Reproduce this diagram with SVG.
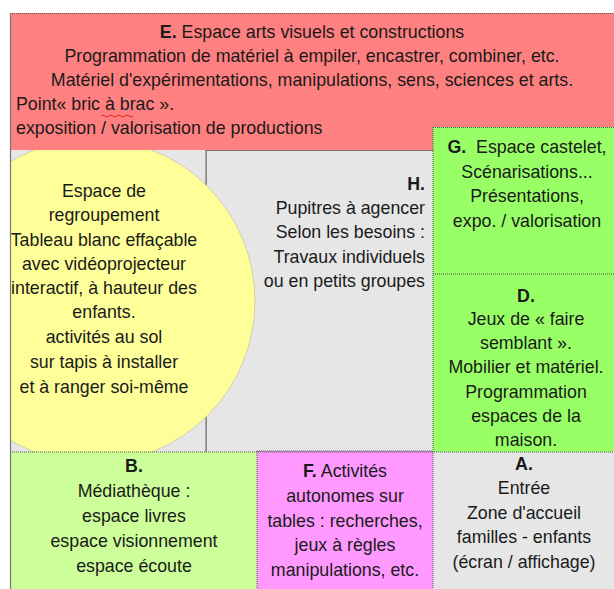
<svg xmlns="http://www.w3.org/2000/svg" width="614" height="589" viewBox="0 0 614 589">
<style>
text{font-family:"Liberation Sans",Arial,sans-serif;font-size:17.8px;fill:#1a1a1a}
.c{text-anchor:middle}
.r{text-anchor:end}
.b{font-weight:bold}
.dot{stroke:#555;stroke-width:1;stroke-dasharray:1 1;fill:none}
.ln{stroke:#777;stroke-width:1.2;fill:none}
</style>
<defs>
<clipPath id="grpClip"><rect x="10" y="150" width="423" height="302"/></clipPath>
</defs>
<rect x="0" y="0" width="614" height="589" fill="#ffffff"/>

<g id="node-E">
<rect x="10" y="13" width="610" height="137" fill="#FF8080"/>
<line class="dot" x1="10" y1="13.5" x2="614" y2="13.5"/>
<text class="c" x="312" y="38"><tspan class="b">E.</tspan> Espace arts visuels et constructions</text>
<text class="c" x="312" y="62">Programmation de matériel à empiler, encastrer, combiner, etc.</text>
<text class="c" x="312" y="86">Matériel d'expérimentations, manipulations, sens, sciences et arts.</text>
<text x="16" y="110">Point« bric à brac ».</text>
<path d="M101 116 q2 -2 4 0 t4 0 t4 0 t4 0 t4 0 t4 0 t4 0 t4 0" stroke="#e02020" stroke-width="1" fill="none"/>
<text x="16" y="134">exposition / valorisation de productions</text>
</g>

<g id="node-H">
<rect x="206" y="150" width="227" height="302" fill="#E6E6E6"/>
<line class="ln" x1="206" y1="150" x2="206" y2="452"/>
<line class="ln" x1="206" y1="150.5" x2="433" y2="150.5"/>
<text class="r b" x="425" y="190">H.</text>
<text class="r" x="425" y="214">Pupitres à agencer</text>
<text class="r" x="425" y="238">Selon les besoins :</text>
<text class="r" x="425" y="263">Travaux individuels</text>
<text class="r" x="425" y="287">ou en petits groupes</text>
</g>

<g id="node-regroupement">
<rect x="10" y="150" width="196" height="302" fill="#E6E6E6"/>
<line class="ln" x1="206" y1="150" x2="206" y2="452"/>
<circle cx="93" cy="301" r="162" fill="#FFFF99" stroke="#c8c8a0" stroke-width="0.8" clip-path="url(#grpClip)"/>
<text class="c" x="104" y="197">Espace de</text>
<text class="c" x="104" y="221">regroupement</text>
<text class="c" x="104" y="246">Tableau blanc effaçable</text>
<text class="c" x="104" y="270">avec vidéoprojecteur</text>
<text class="c" x="104" y="294">interactif, à hauteur des</text>
<text class="c" x="104" y="318">enfants.</text>
<text class="c" x="104" y="343">activités au sol</text>
<text class="c" x="104" y="368">sur tapis à installer</text>
<text class="c" x="104" y="393">et à ranger soi-même</text>
</g>

<g id="node-G">
<rect x="433" y="127" width="190" height="147" fill="#99FF66"/>
<text class="c" x="527" y="153" xml:space="preserve"><tspan class="b">G.</tspan>  Espace castelet,</text>
<text class="c" x="527" y="178">Scénarisations...</text>
<text class="c" x="527" y="202">Présentations,</text>
<text class="c" x="527" y="227">expo. / valorisation</text>
</g>

<g id="node-D">
<rect x="433" y="274" width="190" height="178" fill="#99FF66"/>
<text class="c b" x="526" y="302">D.</text>
<text class="c" x="526" y="325">Jeux de « faire</text>
<text class="c" x="526" y="349">semblant ».</text>
<text class="c" x="526" y="373">Mobilier et matériel.</text>
<text class="c" x="526" y="398">Programmation</text>
<text class="c" x="526" y="422">espaces de la</text>
<text class="c" x="526" y="446">maison.</text>
</g>

<g id="node-B">
<rect x="10" y="452" width="247" height="140" fill="#CCFF99"/>
<text class="c b" x="134" y="472">B.</text>
<text class="c" x="134" y="497">Médiathèque :</text>
<text class="c" x="134" y="522">espace livres</text>
<text class="c" x="134" y="547">espace visionnement</text>
<text class="c" x="134" y="572">espace écoute</text>
</g>

<g id="node-F">
<rect x="257" y="451" width="176" height="141" fill="#FF99FF"/>
<text class="c" x="345" y="477"><tspan class="b">F.</tspan> Activités</text>
<text class="c" x="345" y="502">autonomes sur</text>
<text class="c" x="345" y="527">tables : recherches,</text>
<text class="c" x="345" y="551">jeux à règles</text>
<text class="c" x="345" y="576">manipulations, etc.</text>
</g>

<g id="node-A">
<rect x="433" y="452" width="190" height="140" fill="#E6E6E6"/>
<text class="c b" x="524" y="470">A.</text>
<text class="c" x="524" y="494">Entrée</text>
<text class="c" x="524" y="519">Zone d'accueil</text>
<text class="c" x="524" y="543">familles - enfants</text>
<text class="c" x="524" y="568">(écran / affichage)</text>
</g>

<g id="connectors">
<line class="ln" x1="10.5" y1="13" x2="10.5" y2="589"/>
<line class="dot" x1="433" y1="127" x2="433" y2="589"/>
<line class="dot" x1="433" y1="127.5" x2="614" y2="127.5"/>
<line class="dot" x1="433" y1="274" x2="614" y2="274"/>
<line class="dot" x1="10" y1="452" x2="614" y2="452"/>
<line class="dot" x1="257" y1="451" x2="433" y2="451"/>
<line class="dot" x1="257" y1="451" x2="257" y2="589"/>
</g>
</svg>
